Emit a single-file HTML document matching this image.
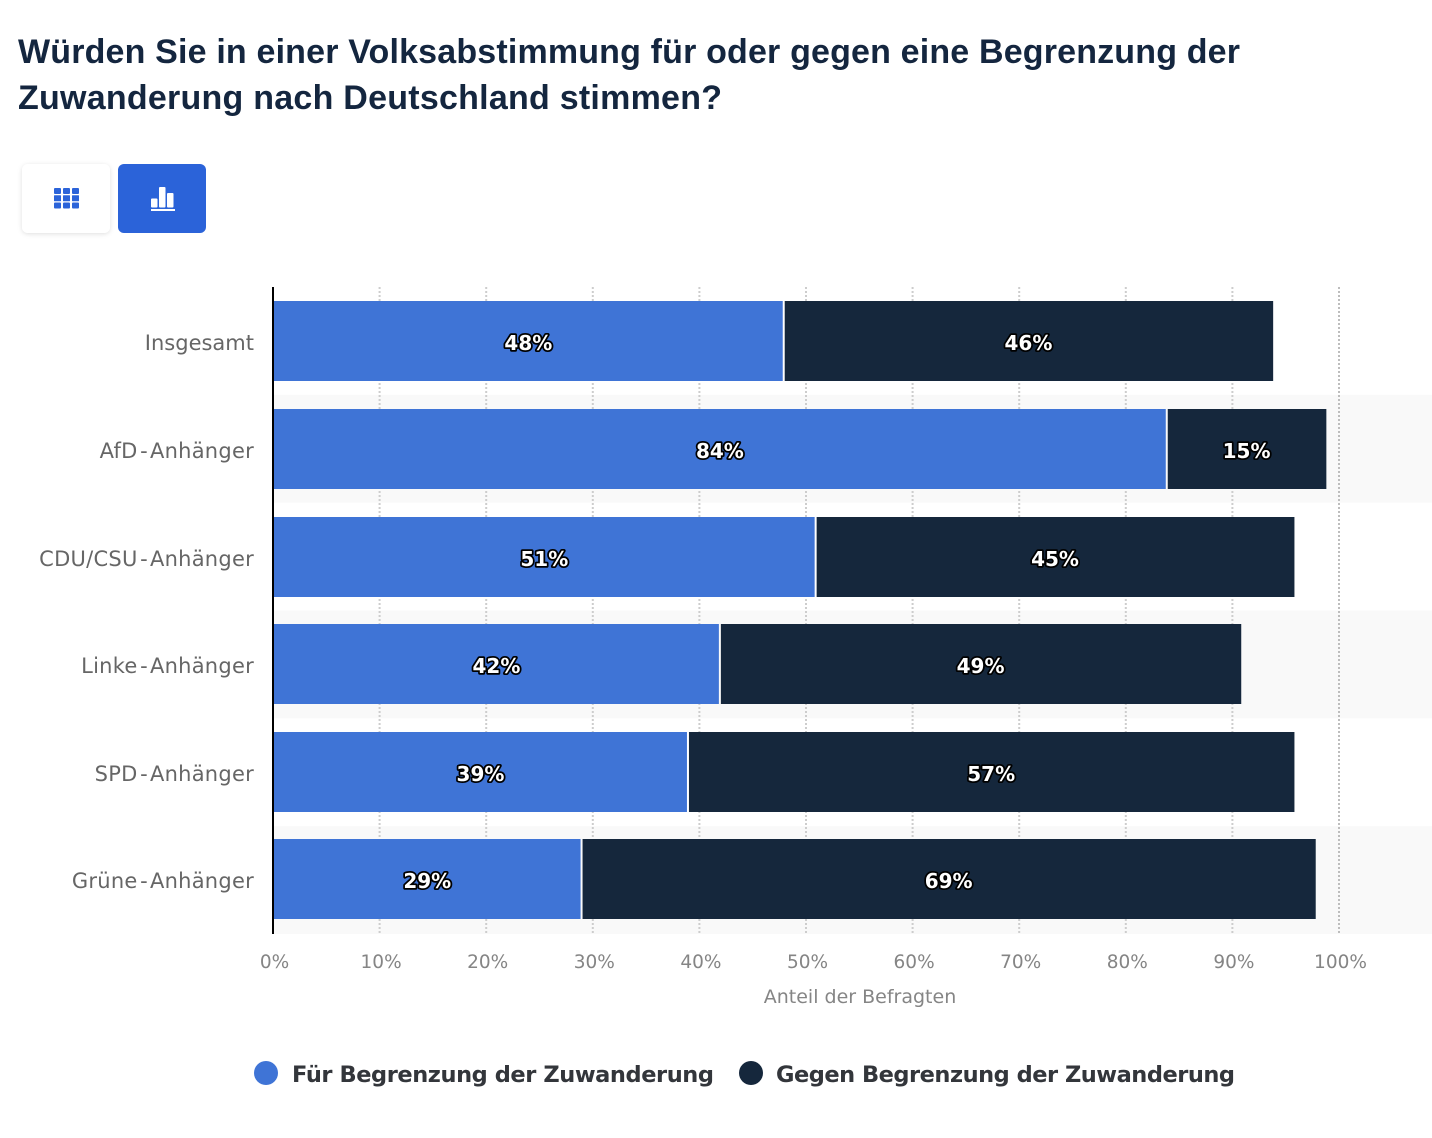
<!DOCTYPE html>
<html lang="de">
<head>
<meta charset="utf-8">
<title>Volksabstimmung Begrenzung der Zuwanderung</title>
<style>
html,body{margin:0;padding:0;background:#fff;width:1432px;height:1138px;overflow:hidden}
svg{display:block}
text{font-family:"DejaVu Sans","Liberation Sans",sans-serif}
.title{font-family:"Liberation Sans",sans-serif;font-weight:700;font-size:34px;fill:#14263f}
.cat{font-size:21px;fill:#666;text-anchor:end}
.tick{font-size:18.5px;fill:#858585;text-anchor:middle}
.val{font-size:20px;font-weight:700;fill:#fff;text-anchor:middle;stroke:#000;stroke-width:3.5px;stroke-linejoin:round;paint-order:stroke}
.leg{font-size:22.5px;font-weight:700;fill:#33363b}
</style>
</head>
<body>
<svg id="chart" xmlns="http://www.w3.org/2000/svg" width="1432" height="1138" viewBox="0 0 1432 1138">
  <defs>
    <filter id="btn-shadow" x="-20%" y="-20%" width="140%" height="140%">
      <feDropShadow dx="0" dy="1" stdDeviation="2.5" flood-color="#000" flood-opacity="0.13"/>
    </filter>
  </defs>
  <text class="title" x="18" y="63" textLength="1222" lengthAdjust="spacing">Würden Sie in einer Volksabstimmung für oder gegen eine Begrenzung der</text>
  <text class="title" x="18" y="109" textLength="704" lengthAdjust="spacing">Zuwanderung nach Deutschland stimmen?</text>

  <g>
    <rect x="22" y="164" width="88" height="69" rx="6" fill="#fff" filter="url(#btn-shadow)"/>
    <g fill="#2b63d9">
      <rect x="54" y="188" width="7" height="6" rx="1"/><rect x="63" y="188" width="7" height="6" rx="1"/><rect x="72" y="188" width="7" height="6" rx="1"/>
      <rect x="54" y="195.3" width="7" height="6" rx="0.5"/><rect x="63" y="195.3" width="7" height="6" rx="0.5"/><rect x="72" y="195.3" width="7" height="6" rx="0.5"/>
      <rect x="54" y="202.5" width="7" height="6" rx="1"/><rect x="63" y="202.5" width="7" height="6" rx="1"/><rect x="72" y="202.5" width="7" height="6" rx="1"/>
    </g>
  </g>
  <g>
    <rect x="118" y="164" width="88" height="69" rx="6" fill="#2b63d9"/>
    <g fill="#fff">
      <rect x="151" y="198.5" width="6.5" height="9" rx="1"/>
      <rect x="159" y="187" width="6.5" height="20.5" rx="1"/>
      <rect x="167" y="193" width="6.5" height="14.5" rx="1"/>
      <rect x="151" y="209" width="24" height="2"/>
    </g>
  </g>

  <g id="bands"></g>
  <g id="grid"></g>
  <g id="bars"></g>
  <g id="cats"></g>
  <g id="ticks"></g>
  <line x1="273" y1="287" x2="273" y2="934" stroke="#000" stroke-width="2"/>
  <text x="860" y="1003" font-size="19" fill="#858585" text-anchor="middle">Anteil der Befragten</text>

  <g>
    <circle cx="266" cy="1073" r="12" fill="#3f74d6"/>
    <text class="leg" x="292" y="1082" textLength="422" lengthAdjust="spacing">Für Begrenzung der Zuwanderung</text>
  </g>
  <g>
    <circle cx="751" cy="1073" r="12" fill="#15273c"/>
    <text class="leg" x="776" y="1082" textLength="459" lengthAdjust="spacing">Gegen Begrenzung der Zuwanderung</text>
  </g>
</svg>
<script>
const categories = ['Insgesamt', 'AfD-Anhänger', 'CDU/CSU-Anhänger', 'Linke-Anhänger', 'SPD-Anhänger', 'Grüne-Anhänger'];
const fuerValues = [48, 84, 51, 42, 39, 29];
const gegenValues = [46, 15, 45, 49, 57, 69];
const tickValues = [0, 10, 20, 30, 40, 50, 60, 70, 80, 90, 100];

const SVG_NS = 'http://www.w3.org/2000/svg';
const plotTop = 287;
const plotBottom = 934;
const rowStep = (plotBottom - plotTop) / categories.length;
const barHeight = 80;
const x = v => 273 + v * 10.64;
const tickX = v => 273 + v * 10.66;
const bandTop = i => plotTop + rowStep * i;
const barTop = i => Math.round(301.4 + 107.6 * i);

function make(parent, tag, attrs, text) {
  const el = document.createElementNS(SVG_NS, tag);
  for (const k in attrs) el.setAttribute(k, attrs[k]);
  if (text !== undefined) el.textContent = text;
  parent.appendChild(el);
  return el;
}

const bandsG = document.getElementById('bands');
const gridG = document.getElementById('grid');
const barsG = document.getElementById('bars');
const catsG = document.getElementById('cats');
const ticksG = document.getElementById('ticks');

categories.forEach((c, i) => {
  if (i % 2 === 1) {
    const band = make(bandsG, 'rect', {x: 273, y: bandTop(i), width: 1432 - 273, height: rowStep, fill: '#f9f9f9'});
    
    
  }
});

tickValues.forEach(t => {
  if (t > 0) {
    const line = make(gridG, 'line', {
      x1: tickX(t), x2: tickX(t), y1: plotTop, y2: plotBottom,
      stroke: t === 100 ? '#bdbdbd' : '#cdcdcd',
      'stroke-width': 2,
      'stroke-dasharray': '2 2'
    });
    
    
  }
  const label = make(ticksG, 'text', {class: 'tick', x: tickX(t) + 1.5, y: 968}, t + '%');
  
  
});

categories.forEach((c, i) => {
  const y = barTop(i);
  const a = fuerValues[i];
  const b = gegenValues[i];
  const label = make(catsG, 'text', {class: 'cat', x: 254, y: y + 49});
  
  
  const parts = c.split('-');
  if (parts.length === 2) {
    label.setAttribute('letter-spacing', '0.25');
    make(label, 'tspan', {}, parts[0]);
    make(label, 'tspan', {dx: 2.5}, '-');
    make(label, 'tspan', {dx: 2.5}, parts[1]);
  } else {
    label.textContent = c;
  }

  const barA = make(barsG, 'rect', {x: x(0), y: y, width: x(a) - x(0) - 1, height: barHeight, fill: '#3f74d6'});
  
  

  const barB = make(barsG, 'rect', {x: x(a) + 1, y: y, width: x(a + b) - x(a) - 1, height: barHeight, fill: '#15273c'});
  
  

  const valA = make(barsG, 'text', {class: 'val', x: x(a / 2), y: y + 49}, a + '%');
  
  

  const valB = make(barsG, 'text', {class: 'val', x: x(a + b / 2), y: y + 49}, b + '%');
  
  
});
</script>
</body>
</html>
